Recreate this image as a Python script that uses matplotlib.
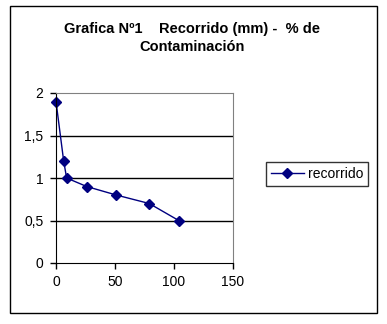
import matplotlib
matplotlib.use('Agg')
import matplotlib.pyplot as plt
from matplotlib.patches import Rectangle
from matplotlib.ticker import FuncFormatter

recorrido_mm = [0, 6.5, 9, 26, 51, 79, 104]
contaminacion = [1.9, 1.2, 1.0, 0.9, 0.8, 0.7, 0.5]
x_ticks = [0, 50, 100, 150]
y_ticks = [0, 0.5, 1, 1.5, 2]

plt.rcParams['font.family'] = ['Liberation Sans', 'DejaVu Sans']

W, H = 387, 324
fig = plt.figure(figsize=(W / 100, H / 100), dpi=100)

# outer chart border
fig.patches.append(Rectangle((9.5 / W, 1 - 312.5 / H), 367.5 / W, 306.5 / H,
                             transform=fig.transFigure, fill=False,
                             edgecolor='black', linewidth=1))

fig.text(192 / W, 1 - 38 / H, 'Grafica Nº1    Recorrido (mm) -  % de\nContaminación',
         ha='center', va='center', fontsize=10.5, fontweight='bold', linespacing=1.45)

ax = fig.add_axes([56 / W, 1 - 263 / H, 177 / W, 170 / H])
ax.plot(recorrido_mm, contaminacion, color='#000080', marker='D', markersize=5,
        linewidth=1, label='recorrido', clip_on=False)
ax.set_xlim(0, 150)
ax.set_ylim(0, 2)
ax.set_xticks(x_ticks)
ax.set_yticks(y_ticks)
ax.yaxis.set_major_formatter(FuncFormatter(lambda v, p: ('%g' % v).replace('.', ',')))
ax.tick_params(direction='out', length=4, width=1, labelsize=10, pad=5, colors='black')
for yv in y_ticks[1:-1]:
    ax.axhline(yv, color='black', linewidth=1, zorder=0)
ax.spines['top'].set_color('#808080')
ax.spines['right'].set_color('#808080')
ax.spines['left'].set_color('black')
ax.spines['bottom'].set_color('black')

leg = fig.legend(loc='center', bbox_to_anchor=(317 / W, 1 - 174 / H), fontsize=10,
                 frameon=True, fancybox=False, handlelength=2.4, handletextpad=0.3,
                 borderpad=0.35, borderaxespad=0)
leg.get_frame().set_edgecolor('black')
leg.get_frame().set_linewidth(1)

fig.savefig('out.png', dpi=100)
